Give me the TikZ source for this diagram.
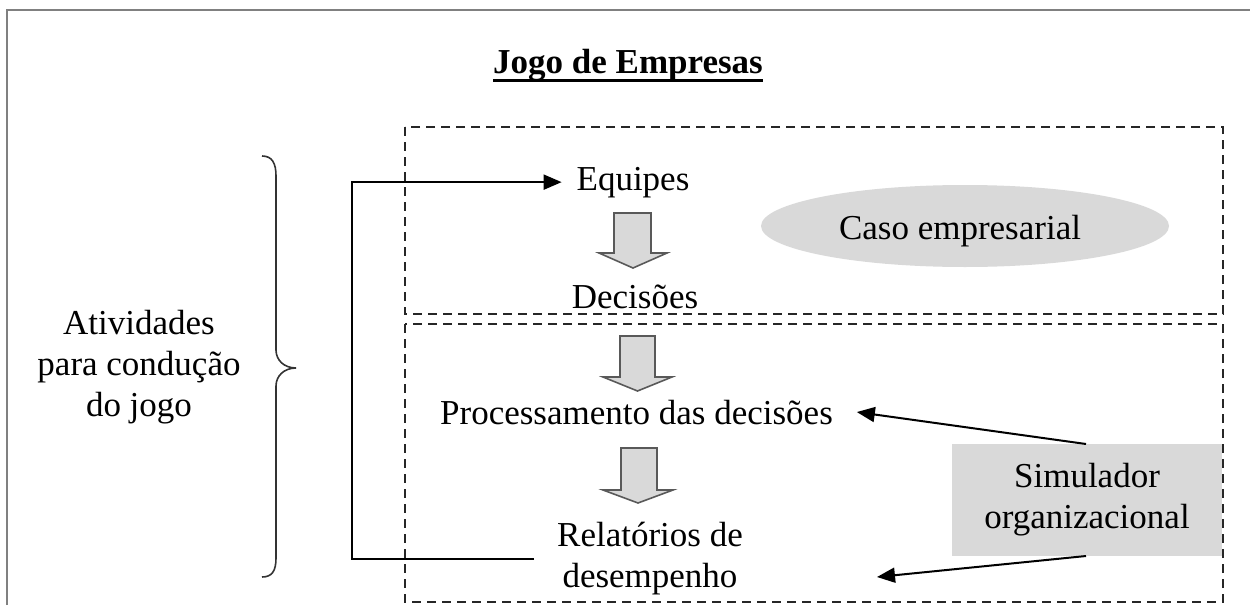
\documentclass[tikz,border=0pt]{standalone}
\usepackage{fontspec}
\setmainfont{Liberation Serif}
\usetikzlibrary{arrows.meta,shapes.geometric,calc}
\definecolor{boxgray}{HTML}{D9D9D9}
\definecolor{framegray}{HTML}{808080}
\tikzset{
  lbl/.style={inner sep=0pt, outer sep=0pt},
  mlbl/.style={inner sep=0pt, outer sep=0pt, align=center},
  dbox/.style={draw=black!85, line width=2pt, dash pattern=on 9pt off 6pt},
  conn/.style={draw=black, line width=2pt, -{Triangle[length=18pt,width=15pt]}},
  blockarrow/.style={draw=black!65, line width=1.6pt, fill=boxgray, line join=miter},
  framel/.style={draw=framegray, line width=2pt}
}
\begin{document}
\begin{tikzpicture}[x=1pt, y=-1pt, font=\fontsize{35}{41}\selectfont]
\useasboundingbox (0,0) rectangle (1250,605);
% frame
\draw[framel] (7,605) -- (7,10) -- (1250,10);
% title
\node[lbl, anchor=base, font=\fontsize{35}{41}\selectfont\bfseries] (title) at (628,73) {Jogo de Empresas};
\draw[line width=3pt] ([yshift=-7pt]title.base west) -- ([yshift=-7pt]title.base east);
% dashed boxes
\draw[dbox] (405,127) rectangle (1223,314);
\draw[dbox] (405,324) rectangle (1223,602);
% texts
\node[lbl, anchor=base] (eq) at (633,190) {Equipes};
\node[lbl, anchor=base] (dec) at (635,308) {Decisões};
\node[lbl, anchor=base] (proc) at (636.5,424) {Processamento das decisões};
\node[mlbl] (rel) at (650,559) {Relatórios de\\desempenho};
\node[mlbl] (ativ) at (139,367) {Atividades\\para condução\\do jogo};
\node[ellipse, fill=boxgray, minimum width=408pt, minimum height=82pt, inner sep=0pt] (caso) at (965,226) {};
\node[lbl, anchor=base] (casotxt) at (960,239) {Caso empresarial};
\node[mlbl, fill=boxgray, minimum width=270pt, minimum height=112pt] (sim) at (1087,500) {Simulador\\organizacional};
% block arrows
\draw[blockarrow] (614,213) -- (651,213) -- (651,253) -- (667,253) -- (633,268) -- (599,253) -- (614,253) -- cycle;
\draw[blockarrow] (620,336) -- (655,336) -- (655,377) -- (672,377) -- (637.5,391) -- (603,377) -- (620,377) -- cycle;
\draw[blockarrow] (621,448) -- (657,448) -- (657,490) -- (673,490) -- (638,503) -- (603,490) -- (621,490) -- cycle;
% brace
\draw[line width=1.6pt, draw=black!80] (262,156) .. controls (272,156) and (276,163) .. (276,176) -- (276,350) .. controls (276,360) and (284,368) .. (296,368) .. controls (284,368) and (276,376) .. (276,386) -- (276,558) .. controls (276,571) and (272,577) .. (262,577);
% loop connector
\coordinate (loopc) at (352,370);
\draw[conn] ([xshift=-23pt]rel.west) -| (loopc) |- ([xshift=-15pt]eq.west);
% simulator connectors
\coordinate (relin) at (877,577);
\draw[conn] ([xshift=-1pt]sim.north) -- ([xshift=24pt]proc.east);
\draw[conn] ([xshift=-1pt]sim.south) -- (relin);
\end{tikzpicture}
\end{document}
